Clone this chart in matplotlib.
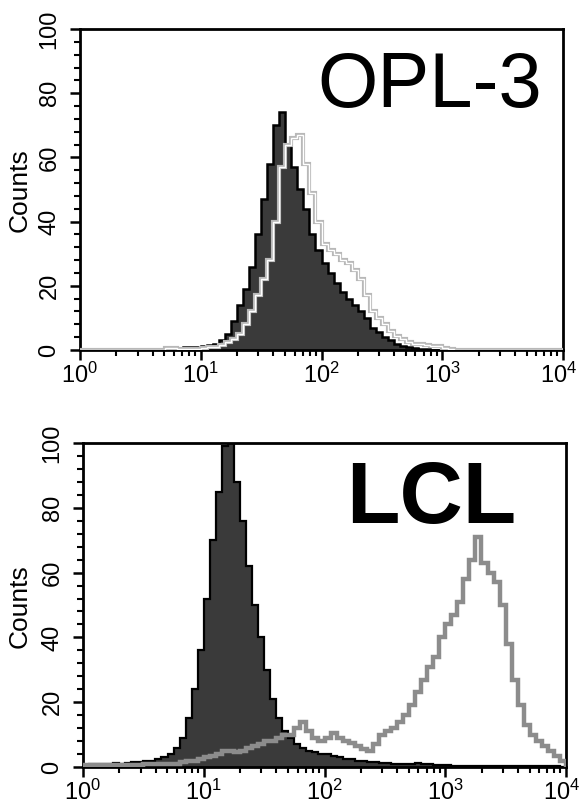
import numpy as np
import matplotlib
matplotlib.use("Agg")
import matplotlib.pyplot as plt
from matplotlib import font_manager
from matplotlib.ticker import MultipleLocator, LogLocator, NullFormatter
import matplotlib.transforms as mtransforms

LAB_FONT = 'Liberation Sans'

plt.rcParams['font.family'] = ['Liberation Sans', 'DejaVu Sans']
plt.rcParams['mathtext.fontset'] = 'custom'
plt.rcParams['mathtext.rm'] = LAB_FONT
plt.rcParams['mathtext.it'] = LAB_FONT
plt.rcParams['mathtext.bf'] = LAB_FONT + ':bold'

# channel bins: 80 log-spaced bins, 0.05 decade each, from 10^0 to 10^4
n_bins = 80
decades = 4

# ---- top panel (OPL-3) ----
opl_control = [0, 0, 0, 0, 0, 0, 0, 0, 0, 0,
               0, 0, 0, 0, 0.2, 0.3, 0.5, 0.8, 0.8, 1.0,
               1.2, 1.5, 2, 3, 5, 9, 14, 19, 26, 36,
               47, 58, 70, 74, 64, 57, 50, 44, 36, 31,
               27, 24, 21, 18, 16, 14, 12, 10, 7, 5.5,
               4, 3, 2, 1.2, 0.8, 0.5, 0.3, 0.2, 0.1, 0,
               0, 0, 0, 0, 0, 0, 0, 0, 0, 0,
               0, 0, 0, 0, 0, 0, 0, 0, 0, 0]
opl_stained = [0, 0, 0, 0, 0, 0, 0, 0, 0, 0,
               0, 0, 0, 0, 0.5, 0.5, 0.3, 0.3, 0.3, 0.3,
               0.5, 0.8, 1, 1.5, 2.5, 3.5, 5, 8, 12, 17,
               22, 28, 40, 57, 64, 66, 67, 58, 49, 40,
               33, 31, 30, 28, 27, 25, 22, 17, 12, 10,
               8, 6, 4.5, 3.5, 2.5, 2, 1.8, 1.5, 1.4, 1.2,
               0.6, 0.3, 0.1, 0, 0, 0, 0, 0, 0, 0,
               0, 0, 0, 0, 0, 0, 0, 0, 0, 0]

# ---- bottom panel (LCL) ----
lcl_control = [0.5, 1, 1, 0.8, 1, 1.2, 1, 1.3, 1.5, 1.5,
               1.8, 2, 2.5, 3, 4, 6, 9, 15, 24, 36,
               52, 70, 85, 99, 100, 88, 76, 62, 50, 40,
               30, 21, 15, 11, 9, 7, 6, 5, 4.5, 4,
               4, 3.5, 3, 2.5, 2.5, 2, 2, 1.5, 1.5, 1.2,
               1.2, 1, 1, 1, 1, 1.2, 1, 0.8, 0.6, 0.5,
               0.5, 0.4, 0.3, 0.3, 0.3, 0.3, 0.3, 0.3, 0.3, 0.3,
               0.3, 0.3, 0.2, 0.2, 0.2, 0.2, 0.2, 0.2, 0.2, 0]
lcl_stained = [0.5, 0.5, 0.5, 0.5, 0.5, 0.5, 0.5, 0.5, 0.5, 0.5,
               1, 1, 1, 1, 1, 1, 1.5, 2, 2, 2.5,
               3, 3.5, 4, 5, 5, 4.5, 5, 6, 6.5, 7,
               8, 8, 9, 10, 10, 12, 14, 11, 9, 8,
               9, 10.5, 9, 8, 7.5, 6.5, 5.5, 5, 7, 10,
               11, 12, 14, 16, 19, 23, 27, 31, 34, 40,
               44, 47, 51, 58, 64, 71, 63, 60, 57, 50,
               38, 27, 19, 13, 10, 8, 6.5, 5, 3.5, 2]

panel_titles = ["OPL-3", "LCL"]
y_label = "Counts"

edges = 10 ** np.linspace(0, decades, n_bins + 1)

fig = plt.figure(figsize=(5.8, 8.05), dpi=100)
ax1 = fig.add_axes([80 / 580, 1 - 350 / 805, 483 / 580, 321 / 805])
ax2 = fig.add_axes([83 / 580, 1 - 767 / 805, 483 / 580, 324 / 805])

# top
ax1.stairs(opl_control, edges, fill=True, color='#3a3a3a', zorder=2)
ax1.stairs(opl_control, edges, color='black', lw=1.8, zorder=3)
ax1.stairs(opl_stained, edges, color='#b8b8b8', lw=3.0, zorder=4)
ax1.stairs(opl_stained, edges, color='white', lw=1.0, zorder=5)

# bottom
ax2.stairs(lcl_control, edges, fill=True, color='#3a3a3a', zorder=2)
ax2.stairs(lcl_control, edges, color='black', lw=1.6, zorder=3)
ax2.stairs(lcl_stained, edges, color='#8c8c8c', lw=3.2, zorder=4)

for ax, title, bold, tx, ty in [(ax1, panel_titles[0], False, 0.725, 0.757),
                                (ax2, panel_titles[1], True, 0.72, 0.753)]:
    ax.set_xscale('log')
    ax.set_xlim(1, 1e4)
    ax.set_ylim(0, 100)
    ax.yaxis.set_major_locator(MultipleLocator(20))
    ax.yaxis.set_minor_locator(MultipleLocator(4))
    ax.xaxis.set_major_locator(LogLocator(base=10, numticks=10))
    ax.xaxis.set_minor_locator(LogLocator(base=10, subs=np.arange(2, 10), numticks=20))
    ax.xaxis.set_minor_formatter(NullFormatter())
    for s in ax.spines.values():
        s.set_linewidth(2)
    ax.tick_params(axis='both', which='major', direction='out', length=7, width=1.8,
                   color='black')
    ax.tick_params(axis='y', which='major', labelsize=17, pad=7)
    ax.tick_params(axis='x', which='major', labelsize=17, pad=2)
    ax.tick_params(axis='both', which='minor', direction='out', length=4, width=1.5)
    for lab in ax.get_yticklabels():
        lab.set_rotation(90)
        lab.set_va('center')
        lab.set_ha('right')
    ax.text(tx, ty, title, transform=ax.transAxes, ha='center', va='baseline',
            fontsize=56 if not bold else 63, fontweight='bold' if bold else 'normal')

fig.text(20 / 580, 1 - 190 / 805, y_label, rotation=90, ha='center', va='center',
         fontsize=19)
fig.text(20 / 580, 1 - 606 / 805, y_label, rotation=90, ha='center', va='center',
         fontsize=19)

# nudge the rightmost x tick labels slightly inward so they fit in the figure
fig.canvas.draw()
for ax in (ax1, ax2):
    for tick in ax.xaxis.get_major_ticks():
        if np.isclose(tick.get_loc(), 1e4):
            lab = tick.label1
            lab.set_transform(lab.get_transform() +
                              mtransforms.ScaledTranslation(-4 / 100, 0, fig.dpi_scale_trans))

fig.savefig("out.png", dpi=100)
